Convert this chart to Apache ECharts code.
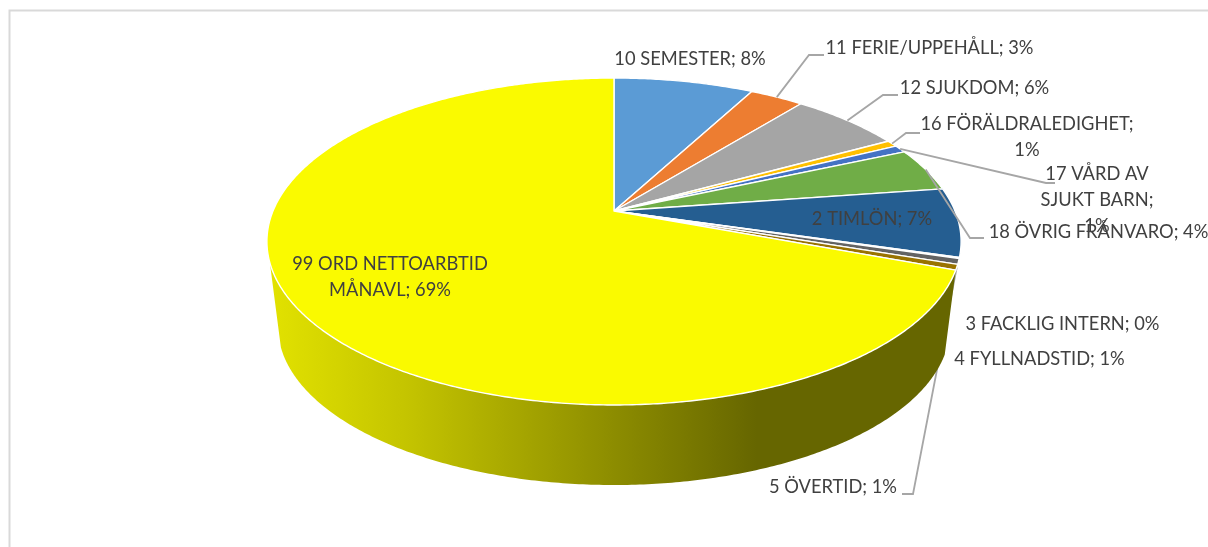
<!DOCTYPE html>
<html><head><meta charset="utf-8">
<style>html,body{margin:0;padding:0;background:#fff}#c{width:1208px;height:547px}</style>
<script src="https://cdn.jsdelivr.net/npm/echarts@6/dist/echarts.min.js"></script>
</head><body><div id="c"></div>
<script>
// ---- data ----
const categories = ['10 SEMESTER','11 FERIE/UPPEHÅLL','12 SJUKDOM','16 FÖRÄLDRALEDIGHET','17 VÅRD AV\nSJUKT BARN','18 ÖVRIG FRÅNVARO','2 TIMLÖN','3 FACKLIG INTERN','4 FYLLNADSTID','5 ÖVERTID','99 ORD NETTOARBTID\nMÅNAVL'];
const values = [7.8,3.0,6.2,0.65,0.75,4.3,6.8,0.1,0.55,0.55,69.3];
// ---- styles ----
const colors = ['#5B9BD5','#ED7D31','#A5A5A5','#FFC000','#4472C4','#70AD47','#255E91','#9E480E','#636363','#997300','#FAFA00'];
// ---- label layout: text centre, separator, optional leader (elbow + end) ----
const labelX = [690,929.5,974.5,1027,1097,1098.5,872,1062.5,1039.5,833,390];
const labelY = [59.5,48.5,88.5,137.5,200.5,232.5,219.5,324.5,359.5,487.5,277.5];
const labelSep = ['; ','; ','; ',';\n',';\n','; ','; ','; ','; ','; ','; '];
const leaders = [null,[[809,55],[824,55]],[[883,95],[898,95]],[[906,133],[920,133]],[[1046,183],[1055,183]],[[970,238],[984,238]],null,null,null,[[913,494],[902,494]],null];
const leaderUnderPie = [false,false,false,false,false,false,false,false,false,true,false];

// ---- perspective projection of the pie disc onto the page ----
const pivot = {x:614,y:211}, proj = {a:341,b:157.8,k:-0.1865};
const extrude = {s:0.968,vy:2906};
const total = values.reduce((a,b)=>a+b,0);
function topPt(t){ const x=Math.sin(t), y=-Math.cos(t), w=1+proj.k*y;
  return [pivot.x+proj.a*x/w, pivot.y+proj.b*y/w]; }
function botPt(t){ const p=topPt(t); return [pivot.x+extrude.s*(p[0]-pivot.x), extrude.vy+extrude.s*(p[1]-extrude.vy)]; }
function arc(f,t0,t1){ const n=Math.max(2,Math.ceil(Math.abs(t1-t0)/0.01)), r=[];
  for(let i=0;i<=n;i++) r.push(f(t0+(t1-t0)*i/n)); return r; }
const wallEnd = 1.5*Math.PI-0.315; // left end of the visible side wall

const chart = echarts.init(document.getElementById('c'),null,{renderer:'canvas'});
chart.setOption({
  animation:false, backgroundColor:'#fff',
  graphic:[{type:'polyline',silent:true,z:0,shape:{points:[[9.5,548],[9.5,10.5],[1209,10.5]]},style:{stroke:'#D9D9D9',lineWidth:2,fill:null}}],
  series:[{
    type:'custom', coordinateSystem:'none', silent:true,
    data: values.map((v,i)=>[v,i]),
    renderItem(params,api){
      const i=api.value(1), v=api.value(0);
      const before=values.slice(0,i).reduce((a,b)=>a+b,0);
      const t0=before/total*2*Math.PI, t1=(before+v)/total*2*Math.PI, tm=(t0+t1)/2;
      const kids=[];
      kids.push({type:'polygon',z2:3,shape:{points:[[pivot.x,pivot.y],...arc(topPt,t0,t1)]},
        style:{fill:colors[i],stroke:'#fff',lineWidth:1.4,lineJoin:'round'}});
      if(t1>Math.PI/2 && t0<wallEnd && i===values.length-1){
        const a=Math.max(t0,Math.PI/2), b=Math.min(t1,wallEnd);
        kids.push({type:'polygon',z2:2,shape:{points:[...arc(topPt,a,b),...arc(botPt,b,a)]},
          style:{fill:{type:'linear',x:0,y:0,x2:1,y2:0,colorStops:[{offset:0,color:'#E2E200'},{offset:0.2,color:'#C4C400'},{offset:0.71,color:'#666600'},{offset:1,color:'#666600'}]}}});
      }
      if(leaders[i]){
        kids.push({type:'polyline',z2:leaderUnderPie[i]?1:5,shape:{points:[topPt(tm),...leaders[i]]},
          style:{stroke:'#A6A6A6',lineWidth:1.8,fill:null}});
      }
      const pct=Math.round(v/total*100);
      kids.push({type:'text',z2:6,style:{text:categories[i]+labelSep[i]+pct+'%',x:labelX[i],y:labelY[i],
        align:'center',verticalAlign:'middle',fill:'#404040',font:'18.3px Lato',lineHeight:26}});
      return {type:'group',children:kids};
    }
  }]
});
</script></body></html>
